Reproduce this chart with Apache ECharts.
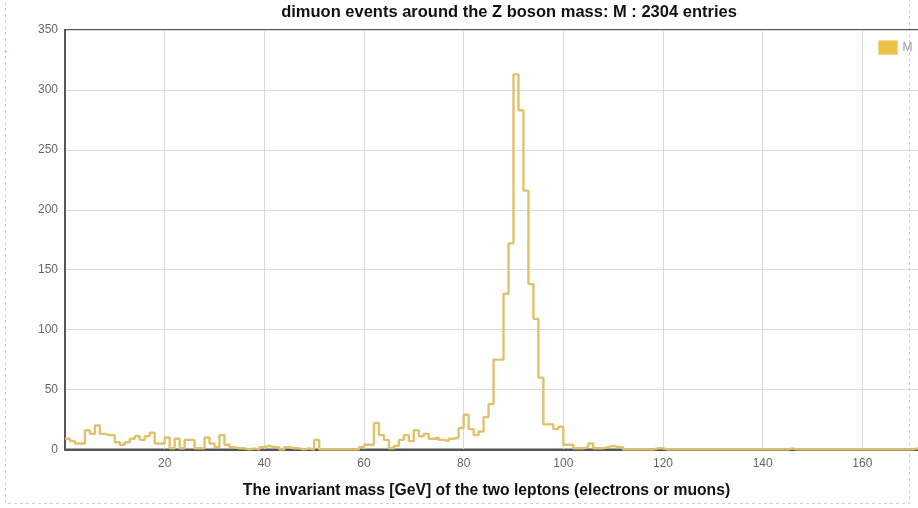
<!DOCTYPE html>
<html>
<head>
<meta charset="utf-8">
<script src="https://cdn.jsdelivr.net/npm/echarts/dist/echarts.min.js"></script>
<style>
  html, body { margin: 0; padding: 0; background: #fff; }
  #chart { width: 918px; height: 508px; }
</style>
</head>
<body>
<div id="chart"></div>
<script>
// Dimuon invariant-mass histogram, 1 GeV bins starting at 0 GeV
const chartTitle = 'dimuon events around the Z boson mass: M : 2304 entries';
const xAxisTitle = 'The invariant mass [GeV] of the two leptons (electrons or muons)';
const seriesName = 'M';

const binStart = 0;
const binWidth = 1;

// entries per bin
const counts = [
  9, 7, 5, 5, 16, 13, 20, 13, 12, 12,
  6, 4, 6, 9, 11, 8, 11, 14, 5, 5,
  10, 1, 9, 1, 8, 8, 1, 1, 10, 5,
  2, 12, 4, 2, 1, 1, 0, 1, 0, 2,
  3, 2, 2, 0, 2, 1, 1, 0, 1, 0,
  8, 0, 0, 0, 0, 0, 0, 0, 0, 2,
  4, 4, 22, 12, 8, 1, 3, 8, 12, 7,
  16, 11, 13, 9, 10, 8, 7, 9, 10, 18,
  29, 17, 12, 15, 27, 38, 75, 75, 130, 172,
  313, 283, 216, 138, 109, 60, 21, 21, 17, 19,
  4, 4, 1, 1, 2, 5, 1, 1, 2, 3,
  2, 2, 0, 0, 0, 0, 0, 0, 1, 1,
  0, 0, 0, 0, 0, 0, 0, 0, 0, 0,
  0, 0, 0, 0, 0, 0, 0, 0, 0, 0,
  0, 0, 0, 0, 0, 1, 0, 0, 0, 0,
  0, 0, 0, 0, 0, 0, 0, 0, 0, 0,
  0, 0, 0, 0, 0, 0, 0, 0, 0, 0,
  1, 0, 0, 0, 0, 0, 0, 0
];

// axis ranges and tick spacing
const xMin = 0, xMax = 178, xStep = 20;
const yMin = 0, yMax = 350, yStep = 50;

// step outline: left edge of every bin, plus the closing right edge
const outline = counts.map((c, i) => [binStart + i * binWidth, c]);
outline.push([binStart + counts.length * binWidth, counts[counts.length - 1]]);

const FONT = '"Liberation Sans", Arial, sans-serif';
const frameColor = '#555';
const gridColor = '#dadada';

const chart = echarts.init(document.getElementById('chart'), null, { renderer: 'canvas' });

chart.setOption({
  animation: false,
  backgroundColor: '#fff',
  textStyle: { fontFamily: FONT },
  grid: {
    left: 65, right: -34, top: 30, bottom: 58.5,
    containLabel: false,
    outerBoundsMode: 'none',
    show: true, borderColor: frameColor, borderWidth: 2,
    backgroundColor: 'transparent'
  },
  legend: {
    show: true,
    left: 873, top: 35,
    itemWidth: 19, itemHeight: 14,
    itemGap: 10,
    textStyle: { color: '#999', fontSize: 12, fontFamily: FONT },
    data: [{
      name: seriesName,
      icon: 'rect',
      itemStyle: { color: '#ebc245', borderColor: '#f2da90', borderWidth: 1 }
    }]
  },
  xAxis: {
    type: 'value',
    min: xMin, max: xMax, interval: xStep,
    axisLine: { show: true, onZero: false, lineStyle: { color: frameColor, width: 2 } },
    axisTick: { show: false },
    axisLabel: {
      color: '#666', fontSize: 12, fontFamily: FONT, margin: 8,
      showMinLabel: false, showMaxLabel: false,
      formatter: v => (v === xMin || v === xMax ? '' : String(v))
    },
    splitLine: { show: true, lineStyle: { color: gridColor, width: 1 } }
  },
  yAxis: {
    type: 'value',
    min: yMin, max: yMax, interval: yStep,
    axisLine: { show: true, lineStyle: { color: frameColor, width: 2 } },
    axisTick: { show: false },
    axisLabel: { color: '#666', fontSize: 12, fontFamily: FONT, margin: 7 },
    splitLine: { show: true, lineStyle: { color: gridColor, width: 1 } }
  },
  series: [{
    name: seriesName,
    type: 'line',
    step: 'end',
    data: outline,
    showSymbol: false,
    symbol: 'none',
    clip: true,
    itemStyle: { color: '#ebc245' },
    lineStyle: { color: '#e0c26e', width: 2.4 },
    emphasis: { disabled: true },
    z: 3
  }],
  graphic: [
    {
      type: 'rect', z: -1, silent: true,
      shape: { x: 5.5, y: -10, width: 904, height: 513.5 },
      style: { fill: 'none', stroke: '#cfcfcf', lineWidth: 1, lineDash: [3, 3] }
    },
    {
      type: 'circle', z: 5, silent: true,
      shape: { cx: 5.5, cy: 51.5, r: 1 },
      style: { fill: '#f2a93b' }
    },
    {
      type: 'text', z: 10, silent: true,
      x: 509, y: 12.8,
      style: {
        text: chartTitle, fill: '#111', font: 'bold 16.5px ' + FONT,
        align: 'center', verticalAlign: 'middle'
      }
    },
    {
      type: 'text', z: 10, silent: true,
      x: 486.5, y: 490.6,
      style: {
        text: xAxisTitle, fill: '#111', font: 'bold 15.7px ' + FONT,
        align: 'center', verticalAlign: 'middle'
      }
    }
  ]
});
</script>
</body>
</html>
